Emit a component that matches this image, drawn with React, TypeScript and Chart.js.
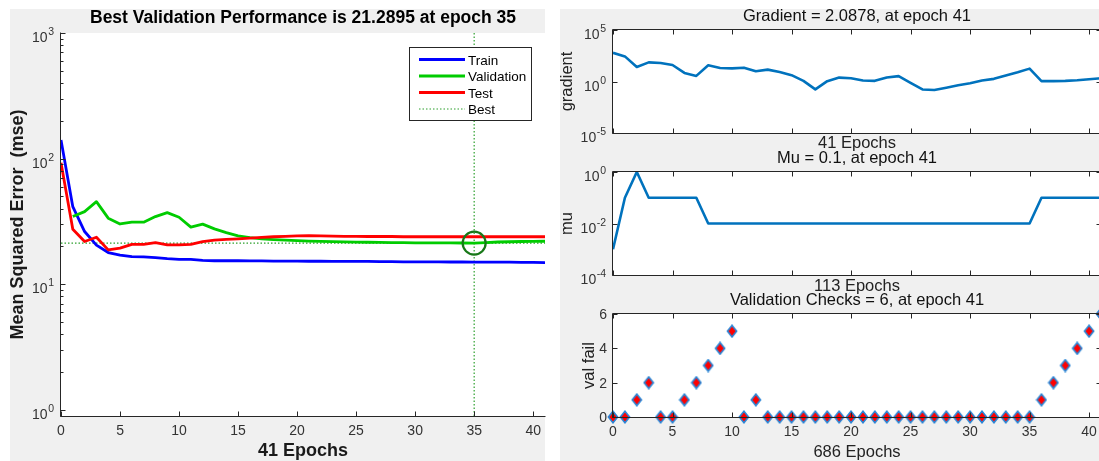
import { useEffect, useRef } from "react";
import { Chart, registerables } from "chart.js";

Chart.register(...registerables);

const FONT = '"Liberation Sans", Arial, Helvetica, sans-serif';
const W = 1110;
const H = 461;
const AXIS = "#262626";
const TICK_TEXT = "#333333";

// ---------- data ----------
const epochs = [0, 1, 2, 3, 4, 5, 6, 7, 8, 9, 10, 11, 12, 13, 14, 15, 16, 17, 18, 19, 20, 21, 22, 23, 24, 25, 26, 27, 28, 29, 30, 31, 32, 33, 34, 35, 36, 37, 38, 39, 40, 41];

const trainMse = [141, 41.5, 26.3, 20.5, 17.9, 17.1, 16.6, 16.5, 16.3, 16.0, 15.8, 15.8, 15.5, 15.4, 15.4, 15.4, 15.35, 15.35, 15.3, 15.3, 15.3, 15.25, 15.25, 15.2, 15.2, 15.2, 15.2, 15.15, 15.15, 15.1, 15.1, 15.1, 15.1, 15.05, 15.05, 15.0, 15.0, 15.0, 15.0, 14.95, 14.95, 14.9];
const valMse = [null, 34.6, 37.9, 45.5, 33.6, 30.2, 31.2, 31.2, 34.6, 37.2, 34.2, 28.5, 30.1, 27.6, 25.8, 24.3, 23.5, 23.0, 22.7, 22.5, 22.3, 22.1, 21.95, 21.85, 21.75, 21.65, 21.6, 21.55, 21.5, 21.45, 21.4, 21.38, 21.35, 21.33, 21.31, 21.2895, 21.5, 21.7, 21.8, 21.9, 21.95, 22.0];
const testMse = [92.9, 27.4, 21.9, 23.7, 18.8, 19.4, 20.8, 20.8, 21.5, 20.6, 20.6, 20.8, 21.9, 22.5, 22.8, 23.0, 23.3, 23.6, 23.9, 24.1, 24.3, 24.4, 24.3, 24.2, 24.1, 24.1, 24.0, 24.0, 24.0, 23.9, 23.9, 23.9, 23.9, 23.9, 23.9, 23.9, 23.9, 23.9, 23.9, 23.9, 23.9, 23.9];
const bestEpoch = 35;
const bestPerf = 21.2895;

const gradientVals = [616, 274, 25.7, 72, 62, 40, 6.8, 3.5, 37, 20.6, 19, 22, 9.8, 14.2, 8.5, 4.1, 1.15, 0.17, 1.08, 2.4, 2.1, 1.25, 1.16, 2.4, 3.3, 0.74, 0.17, 0.15, 0.25, 0.44, 0.69, 1.25, 1.8, 3.8, 7.9, 17.8, 1.08, 1.08, 1.16, 1.34, 1.67, 2.0878];
const muVals = [0.001, 0.1, 1, 0.1, 0.1, 0.1, 0.1, 0.1, 0.01, 0.01, 0.01, 0.01, 0.01, 0.01, 0.01, 0.01, 0.01, 0.01, 0.01, 0.01, 0.01, 0.01, 0.01, 0.01, 0.01, 0.01, 0.01, 0.01, 0.01, 0.01, 0.01, 0.01, 0.01, 0.01, 0.01, 0.01, 0.1, 0.1, 0.1, 0.1, 0.1, 0.1];
const valFail = [0, 0, 1, 2, 0, 0, 1, 2, 3, 4, 5, 0, 1, 0, 0, 0, 0, 0, 0, 0, 0, 0, 0, 0, 0, 0, 0, 0, 0, 0, 0, 0, 0, 0, 0, 0, 1, 2, 3, 4, 5, 6];

const xTicks = [0, 5, 10, 15, 20, 25, 30, 35, 40];
const mseTicks = [1, 10, 100, 1000];
const gradTicks = [1e-5, 1, 1e5];
const muTicks = [1e-4, 1e-2, 1];
const failTicks = [0, 2, 4, 6];

const legendLabels = ["Train", "Validation", "Test", "Best"];
const perfTitle = "Best Validation Performance is 21.2895 at epoch 35";
const perfXLabel = "41 Epochs";
const perfYLabel = "Mean Squared Error  (mse)";
const gradTitle = "Gradient = 2.0878, at epoch 41";
const gradXLabel = "41 Epochs";
const gradYLabel = "gradient";
const muTitle = "Mu = 0.1, at epoch 41";
const muXLabel = "113 Epochs";
const muYLabel = "mu";
const failTitle = "Validation Checks = 6, at epoch 41";
const failXLabel = "686 Epochs";
const failYLabel = "val fail";

const pts = (ys: (number | null)[]) => epochs.map((x, i) => ({ x, y: ys[i] }));

// ---------- drawing helper plugin ----------
type AxesCfg = {
  box: boolean;
  xTicks: number[];
  yTicks: number[];
  yLog: boolean;
  minorY?: boolean;
  xLabels: boolean;
  tickFont: number;
  expFont: number;
  title: { text: string; font: string; y: number; color: string };
  xlabel: { text: string; font: string; y: number; color: string };
  ylabel: { text: string; font: string; x: number; color: string };
  legend?: {
    box: [number, number, number, number];
    rows: number[];
    x1: number;
    x2: number;
    tx: number;
    font: string;
    items: { text: string; color: string; width: number; dash: number[] }[];
  };
};

function makeAxes(cfg: AxesCfg) {
  return {
    id: "mlaxes",
    beforeDraw(chart: any) {
      const { ctx, chartArea: a } = chart;
      ctx.save();
      ctx.fillStyle = "#ffffff";
      ctx.fillRect(a.left, a.top, a.right - a.left, a.bottom - a.top);
      ctx.restore();
    },
    afterDraw(chart: any) {
      const { ctx, chartArea: a } = chart;
      const xs = chart.scales.x;
      const ys = chart.scales.y;
      ctx.save();
      ctx.strokeStyle = AXIS;
      ctx.lineWidth = 1;
      const L = a.left - 0.5;
      const B = a.bottom + 0.5;
      const T = a.top - 0.5;
      const R = a.right + 0.5;
      ctx.beginPath();
      ctx.moveTo(L, T);
      ctx.lineTo(L, B);
      ctx.lineTo(R, B);
      if (cfg.box) {
        ctx.lineTo(R, T);
        ctx.lineTo(L, T);
      }
      ctx.stroke();

      ctx.beginPath();
      for (const v of cfg.xTicks) {
        const px = Math.round(xs.getPixelForValue(v)) + 0.5;
        ctx.moveTo(px, B);
        ctx.lineTo(px, B - 5);
        if (cfg.box) {
          ctx.moveTo(px, T);
          ctx.lineTo(px, T + 5);
        }
      }
      for (const v of cfg.yTicks) {
        const py = Math.round(ys.getPixelForValue(v)) + 0.5;
        ctx.moveTo(L, py);
        ctx.lineTo(L + 5, py);
        if (cfg.box) {
          ctx.moveTo(R, py);
          ctx.lineTo(R - 5, py);
        }
      }
      if (cfg.minorY) {
        const lo = Math.floor(Math.log10(ys.min));
        const hi = Math.ceil(Math.log10(ys.max));
        for (let d = lo; d < hi; d++) {
          for (let m = 2; m <= 9; m++) {
            const v = m * Math.pow(10, d);
            if (v < ys.min || v > ys.max) continue;
            const py = Math.round(ys.getPixelForValue(v)) + 0.5;
            ctx.moveTo(L, py);
            ctx.lineTo(L + 3, py);
          }
        }
      }
      ctx.stroke();

      // tick labels
      ctx.fillStyle = TICK_TEXT;
      ctx.textBaseline = "alphabetic";
      if (cfg.xLabels) {
        ctx.font = `${cfg.tickFont}px ${FONT}`;
        ctx.textAlign = "center";
        for (const v of cfg.xTicks) {
          ctx.fillText(String(v), xs.getPixelForValue(v), a.bottom + 19);
        }
      }
      for (const v of cfg.yTicks) {
        const py = ys.getPixelForValue(v);
        if (cfg.yLog) {
          const e = String(Math.round(Math.log10(v)));
          ctx.font = `${cfg.expFont}px ${FONT}`;
          const we = ctx.measureText(e).width;
          ctx.font = `${cfg.tickFont}px ${FONT}`;
          const wb = ctx.measureText("10").width;
          const xr = a.left - 7;
          ctx.textAlign = "left";
          ctx.fillText("10", xr - we - wb - 0.5, py + 9);
          ctx.font = `${cfg.expFont}px ${FONT}`;
          ctx.fillText(e, xr - we, py + 2);
        } else {
          ctx.font = `${cfg.tickFont}px ${FONT}`;
          ctx.textAlign = "right";
          ctx.fillText(String(v), a.left - 6, py + 5);
        }
      }

      // title / labels
      const cx = (a.left + a.right) / 2;
      const cy = (a.top + a.bottom) / 2;
      ctx.textAlign = "center";
      ctx.fillStyle = cfg.title.color;
      ctx.font = cfg.title.font;
      ctx.fillText(cfg.title.text, cx, cfg.title.y);
      ctx.fillStyle = cfg.xlabel.color;
      ctx.font = cfg.xlabel.font;
      ctx.fillText(cfg.xlabel.text, cx, cfg.xlabel.y);
      ctx.save();
      ctx.translate(cfg.ylabel.x, cy);
      ctx.rotate(-Math.PI / 2);
      ctx.fillStyle = cfg.ylabel.color;
      ctx.font = cfg.ylabel.font;
      ctx.fillText(cfg.ylabel.text, 0, 0);
      ctx.restore();

      // legend
      const lg = cfg.legend;
      if (lg) {
        const [l, t, r, b] = lg.box;
        ctx.fillStyle = "#ffffff";
        ctx.fillRect(l, t, r - l, b - t);
        ctx.strokeStyle = "#262626";
        ctx.lineWidth = 1;
        ctx.strokeRect(l + 0.5, t + 0.5, r - l - 1, b - t - 1);
        ctx.font = lg.font;
        ctx.textAlign = "left";
        lg.items.forEach((it, i) => {
          const y = lg.rows[i];
          ctx.beginPath();
          ctx.setLineDash(it.dash);
          ctx.strokeStyle = it.color;
          ctx.lineWidth = it.width;
          ctx.moveTo(lg.x1, y);
          ctx.lineTo(lg.x2, y);
          ctx.stroke();
          ctx.setLineDash([]);
          ctx.fillStyle = "#000000";
          ctx.fillText(it.text, lg.tx, y + 5);
        });
      }
      ctx.restore();
    },
  };
}

function baseOptions(area: [number, number, number, number], y: any) {
  const [l, t, r, b] = area;
  return {
    animation: false as const,
    responsive: false,
    devicePixelRatio: 1,
    events: [] as any[],
    layout: { padding: { left: l, top: t, right: W - r, bottom: H - b } },
    plugins: { legend: { display: false }, title: { display: false }, tooltip: { enabled: false } },
    scales: {
      x: { type: "linear" as const, display: false, min: 0, max: 41 },
      y: { display: false, ...y },
    },
    elements: { line: { tension: 0 }, point: { radius: 0 } },
  };
}

const TRAIN_C = "#0000ff";
const VAL_C = "#00cc00";
const TEST_C = "#ff0000";
const BEST_C = "#2ca02c";
const CIRCLE_C = "#187818";
const MATLAB_BLUE = "#0072bd";

function perfConfig(): any {
  const yMin = 0.895;
  const yMax = 1000;
  return {
    type: "line",
    data: {
      datasets: [
        {
          label: "BestCircle",
          data: [{ x: bestEpoch, y: bestPerf }],
          showLine: false,
          pointRadius: 11.5,
          pointBorderWidth: 2.2,
          pointBorderColor: CIRCLE_C,
          pointBackgroundColor: "rgba(0,0,0,0)",
          order: 0,
          clip: false,
        },
        { label: legendLabels[2], data: pts(testMse), borderColor: TEST_C, borderWidth: 2.8, order: 1, borderJoinStyle: "round" },
        { label: legendLabels[1], data: pts(valMse), borderColor: VAL_C, borderWidth: 2.8, order: 2, borderJoinStyle: "round" },
        { label: legendLabels[0], data: pts(trainMse), borderColor: TRAIN_C, borderWidth: 2.8, order: 3, borderJoinStyle: "round" },
        {
          label: legendLabels[3],
          data: [{ x: bestEpoch, y: yMin }, { x: bestEpoch, y: yMax }],
          borderColor: BEST_C,
          borderWidth: 1.2,
          borderDash: [1.5, 2],
          order: 4,
        },
        {
          label: "BestH",
          data: [{ x: 0, y: bestPerf }, { x: 41, y: bestPerf }],
          borderColor: BEST_C,
          borderWidth: 1.2,
          borderDash: [1.5, 2],
          order: 4,
        },
      ],
    },
    options: baseOptions([61, 33, 545, 416], { type: "logarithmic", min: yMin, max: yMax }),
    plugins: [
      makeAxes({
        box: false,
        xTicks,
        yTicks: mseTicks,
        yLog: true,
        minorY: true,
        xLabels: true,
        tickFont: 14,
        expFont: 10.5,
        title: { text: perfTitle, font: `bold 17.5px ${FONT}`, y: 23.4, color: "#000" },
        xlabel: { text: perfXLabel, font: `bold 18px ${FONT}`, y: 456.4, color: "#1a1a1a" },
        ylabel: { text: perfYLabel, font: `bold 18px ${FONT}`, x: 22.8, color: "#1a1a1a" },
        legend: {
          box: [409, 47, 532, 121],
          rows: [59.5, 76, 92.5, 109],
          x1: 419,
          x2: 465,
          tx: 468,
          font: `13.5px ${FONT}`,
          items: [
            { text: legendLabels[0], color: TRAIN_C, width: 2.8, dash: [] },
            { text: legendLabels[1], color: VAL_C, width: 2.8, dash: [] },
            { text: legendLabels[2], color: TEST_C, width: 2.8, dash: [] },
            { text: legendLabels[3], color: BEST_C, width: 1.2, dash: [1.5, 2] },
          ],
        },
      }),
    ],
  };
}

function rightConfig(
  area: [number, number, number, number],
  y: any,
  datasets: any[],
  yTicks: number[],
  yLog: boolean,
  xLabels: boolean,
  title: string,
  titleY: number,
  xlabel: string,
  xlabelY: number,
  ylabel: string,
  ylabelX: number
): any {
  return {
    type: "line",
    data: { datasets },
    options: baseOptions(area, y),
    plugins: [
      makeAxes({
        box: true,
        xTicks,
        yTicks,
        yLog,
        xLabels,
        tickFont: 14,
        expFont: 10.5,
        title: { text: title, font: `16.5px ${FONT}`, y: titleY, color: "#111" },
        xlabel: { text: xlabel, font: `16.5px ${FONT}`, y: xlabelY, color: "#222" },
        ylabel: { text: ylabel, font: `16.5px ${FONT}`, x: ylabelX, color: "#222" },
      }),
    ],
  };
}

function diamondMarker() {
  const c = document.createElement("canvas");
  c.width = 12;
  c.height = 14;
  const g = c.getContext("2d")!;
  g.beginPath();
  g.moveTo(6, 1.2);
  g.lineTo(10.6, 7);
  g.lineTo(6, 12.8);
  g.lineTo(1.4, 7);
  g.closePath();
  g.fillStyle = "#ff0000";
  g.fill();
  g.lineWidth = 1.6;
  g.strokeStyle = "#2a86d6";
  g.stroke();
  return c;
}

export default function App() {
  const r1 = useRef<HTMLCanvasElement>(null);
  const r2 = useRef<HTMLCanvasElement>(null);
  const r3 = useRef<HTMLCanvasElement>(null);
  const r4 = useRef<HTMLCanvasElement>(null);

  useEffect(() => {
    const charts: Chart[] = [];
    charts.push(new Chart(r1.current!, perfConfig()));
    charts.push(
      new Chart(
        r2.current!,
        rightConfig(
          [613, 30, 1101, 133],
          { type: "logarithmic", min: 1e-5, max: 1e5 },
          [{ label: "gradient", data: pts(gradientVals), borderColor: MATLAB_BLUE, borderWidth: 2.6, borderJoinStyle: "round" }],
          gradTicks,
          true,
          false,
          gradTitle,
          20.9,
          gradXLabel,
          147.9,
          gradYLabel,
          572
        )
      )
    );
    charts.push(
      new Chart(
        r3.current!,
        rightConfig(
          [613, 172, 1101, 275],
          { type: "logarithmic", min: 1e-4, max: 1 },
          [{ label: "mu", data: pts(muVals), borderColor: MATLAB_BLUE, borderWidth: 2.6, borderJoinStyle: "round" }],
          muTicks,
          true,
          false,
          muTitle,
          162.9,
          muXLabel,
          290.9,
          muYLabel,
          572
        )
      )
    );
    charts.push(
      new Chart(
        r4.current!,
        rightConfig(
          [613, 314, 1101, 417],
          { type: "linear", min: 0, max: 6 },
          [
            {
              label: "val fail",
              data: pts(valFail),
              showLine: false,
              pointStyle: diamondMarker(),
              pointRadius: 6,
              clip: false,
            },
          ],
          failTicks,
          false,
          true,
          failTitle,
          304.9,
          failXLabel,
          456.9,
          failYLabel,
          594
        )
      )
    );
    return () => charts.forEach((c) => c.destroy());
  }, []);

  const canvasStyle = { position: "absolute" as const, left: 0, top: 0, width: W, height: H };
  return (
    <div style={{ position: "fixed", left: 0, top: 0, width: 1099, height: 461, overflow: "hidden", background: "#ffffff" }}>
      <div style={{ position: "absolute", left: 10, top: 9, width: 535, height: 452, background: "#f0f0f0" }} />
      <div style={{ position: "absolute", left: 560, top: 9, width: 539, height: 452, background: "#f0f0f0" }} />
      <canvas ref={r1} width={W} height={H} style={canvasStyle} />
      <canvas ref={r2} width={W} height={H} style={canvasStyle} />
      <canvas ref={r3} width={W} height={H} style={canvasStyle} />
      <canvas ref={r4} width={W} height={H} style={canvasStyle} />
    </div>
  );
}
